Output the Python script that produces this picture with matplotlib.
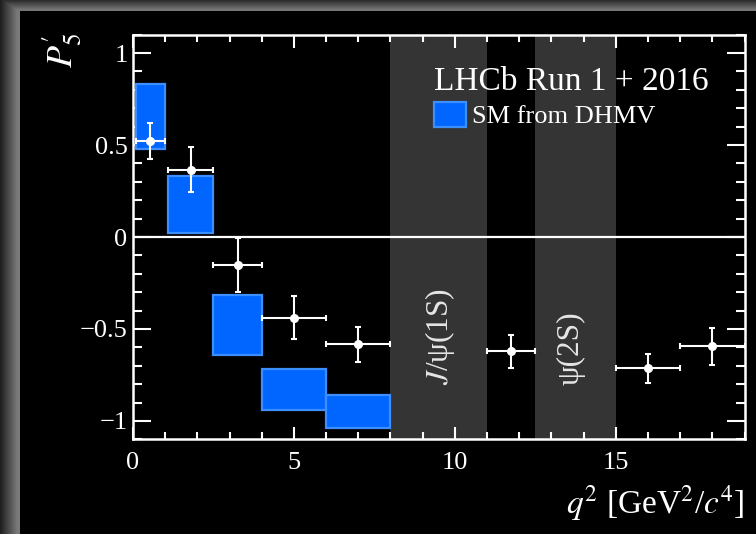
import numpy as np
import matplotlib
matplotlib.use("Agg")
import matplotlib.pyplot as plt
from matplotlib.patches import Rectangle
from matplotlib.ticker import MultipleLocator

plt.rcParams['font.family'] = ['Liberation Serif', 'DejaVu Serif']
plt.rcParams['mathtext.fontset'] = 'stix'

# ---- data ----
bin_lo = [0.1, 1.1, 2.5, 4.0, 6.0, 11.0, 15.0, 17.0]
bin_hi = [0.98, 2.5, 4.0, 6.0, 8.0, 12.5, 17.0, 19.0]
p5_val = [0.521, 0.365, -0.150, -0.439, -0.583, -0.622, -0.714, -0.594]
p5_err = [0.098, 0.123, 0.147, 0.117, 0.095, 0.091, 0.079, 0.101]

sm_lo = [0.1, 1.1, 2.5, 4.0, 6.0]
sm_hi = [0.98, 2.5, 4.0, 6.0, 8.0]
sm_low_val = [0.478, 0.024, -0.641, -0.938, -1.041]
sm_high_val = [0.832, 0.330, -0.313, -0.717, -0.859]

veto_lo = [8.0, 12.5]
veto_hi = [11.0, 15.0]
veto_labels = [r'$J$/ψ(1S)', 'ψ(2S)']
veto_label_x = [9.55, 13.62]

W, H = 756, 534
fig = plt.figure(figsize=(W / 100, H / 100), dpi=100, facecolor='black')

# decorative frame (shaded left/top border)
bg = fig.add_axes([0, 0, 1, 1], zorder=-10)
xs = np.arange(W)[None, :].repeat(H, 0).astype(float)
ys = np.arange(H)[:, None].repeat(W, 1).astype(float)
left = np.where(xs < 20, 0.12 + 0.36 * np.clip(xs / 17, 0, 1), 0)
top = np.where(ys < 11, 0.18 + 0.28 * np.clip(ys / 9, 0, 1), 0)
img = np.maximum(left, top)
corner = (xs < 20) & (ys < 11)
img[corner] = np.minimum(left, top)[corner]
bg.imshow(np.dstack([img] * 3), aspect='auto', extent=[0, 1, 0, 1], interpolation='bilinear')
bg.set_axis_off()

ax = fig.add_axes([133 / W, 1 - 439.3 / H, (744.5 - 133) / W, (439.3 - 34.7) / H])
ax.set_facecolor('black')
ax.set_xlim(0, 19)
ax.set_ylim(-1.1, 1.1)

# veto bands
for lo, hi in zip(veto_lo, veto_hi):
    ax.axvspan(lo, hi, color='#343434', zorder=1, lw=0)
for lab, xl in zip(veto_labels, veto_label_x):
    ax.text(xl, -0.805, lab, rotation=90, ha='center', va='bottom',
            color='#e6e6e6', fontsize=22.5, zorder=2)

# SM boxes
for lo, hi, l, h in zip(sm_lo, sm_hi, sm_low_val, sm_high_val):
    ax.add_patch(Rectangle((lo, l), hi - lo, h - l, facecolor='#0066ff',
                           edgecolor='#3d8eff', lw=1.6, zorder=3))

# zero line
ax.axhline(0, color='white', lw=1.6, zorder=4)

# data
xc = [(a + b) / 2 for a, b in zip(bin_lo, bin_hi)]
xerr = [(b - a) / 2 for a, b in zip(bin_lo, bin_hi)]
ax.errorbar(xc, p5_val, yerr=p5_err, xerr=xerr, fmt='o', color='white',
            ms=5.5, elinewidth=1.5, capsize=2.2, capthick=1.5, zorder=5)

# ticks and spines
for s in ax.spines.values():
    s.set_color('white')
    s.set_linewidth(1.8)
ax.xaxis.set_major_locator(MultipleLocator(5))
ax.xaxis.set_minor_locator(MultipleLocator(1))
ax.yaxis.set_major_locator(MultipleLocator(0.5))
ax.yaxis.set_minor_locator(MultipleLocator(0.1))
ax.tick_params(which='both', direction='in', top=True, right=True, colors='white',
               width=1.5, labelsize=19, labelcolor='white')
ax.tick_params(axis='x', which='major', length=9, pad=9)
ax.tick_params(axis='x', which='minor', length=4.8)
ax.tick_params(axis='y', which='major', length=13, pad=4)
ax.tick_params(axis='y', which='minor', length=6.5)
ax.set_xticks([0, 5, 10, 15])
ax.set_xticklabels(['0', '5', '10', '15'])
ax.set_yticks([-1, -0.5, 0, 0.5, 1])
ax.set_yticklabels(['\u22121', '\u22120.5', '0', '0.5', '1'])

# labels
fig.text(744.5 / W, 1 - 513 / H, r'$q^2$ [GeV$^2$/$c^4$]', ha='right', va='baseline',
         color='white', fontsize=24)
fig.text(62 / W, 1 - 33 / H, r"$P_5'$", rotation=90, ha='center', va='top',
         color='white', fontsize=26)

# LHCb text and legend
fig.text(434.5 / W, 1 - 89.5 / H, 'LHCb Run 1 + 2016', ha='left', va='baseline',
         color='white', fontsize=24)
fig.patches.append(Rectangle((434 / W, 1 - 127.3 / H), 32 / W, 25.6 / H,
                             transform=fig.transFigure, facecolor='#0066ff',
                             edgecolor='#3d8eff', lw=1.6, figure=fig))
fig.text(472.3 / W, 1 - 123.3 / H, 'SM from DHMV', ha='left', va='baseline',
         color='white', fontsize=19)

fig.savefig('out.png', dpi=100, facecolor='black')
